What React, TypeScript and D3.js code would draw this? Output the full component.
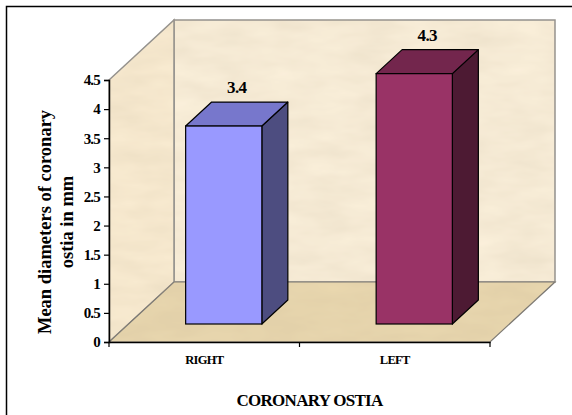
import * as d3 from "d3"
import { useEffect, useRef } from "react"

// chart data
const categories = ["RIGHT", "LEFT"]
const values = [3.4, 4.3]
const yTicks = [0, 0.5, 1, 1.5, 2, 2.5, 3, 3.5, 4, 4.5]
const barColors = [
	{ front: "#9999FF", top: "#7777CC", side: "#4D4D80" },
	{ front: "#993366", top: "#73264D", side: "#4D1A33" },
]

export default function App() {

	const chartRef = useRef<SVGSVGElement>(null)

	useEffect(() => {
		const svg = d3.select(chartRef.current)
		svg.selectAll("*").remove()
		DrawChart(svg)
	}, [])

	const width = 572
	const height = 415
	// front plane of the plot
	const plot = { left: 109, right: 490, top: 80, bottom: 342 }
	// depth of the walls
	const depth = { dx: 65, dy: -60 }
	const font = "'Liberation Serif', 'Times New Roman', serif"

	const DrawChart = (svg: any) => {

		const defs = svg.append("defs")
		// light marble look for the walls
		const filter = defs.append("filter").attr("id", "grain")
		filter.append("feTurbulence")
			.attr("type", "fractalNoise")
			.attr("baseFrequency", "0.02 0.06")
			.attr("numOctaves", 3)
			.attr("seed", 4)
			.attr("result", "noise")
		filter.append("feColorMatrix")
			.attr("in", "noise")
			.attr("type", "matrix")
			.attr("values", "0 0 0 0 0.55  0 0 0 0 0.45  0 0 0 0 0.3  0 0 0 0.28 0")
			.attr("result", "tint")
		filter.append("feComposite")
			.attr("in", "tint")
			.attr("in2", "SourceGraphic")
			.attr("operator", "atop")

		svg.append("rect")
			.attr("width", width)
			.attr("height", height)
			.attr("fill", "#ffffff")

		// outer frame (right and bottom run off the picture)
		svg.append("rect")
			.attr("x", 6.5)
			.attr("y", 6.5)
			.attr("width", width + 20)
			.attr("height", height + 20)
			.attr("fill", "none")
			.attr("stroke", "#000")
			.attr("stroke-width", 1.5)

		const x = d3.scaleBand<string>()
			.domain(categories)
			.range([plot.left, plot.right])
			.padding(0)

		const y = d3.scaleLinear()
			.domain([0, 4.5])
			.range([plot.bottom, plot.top])

		const bx = plot.left + depth.dx
		const by = depth.dy
		const pts = (p: number[][]) => p.map(d => d.join(",")).join(" ")

		// back wall
		svg.append("polygon")
			.attr("points", pts([
				[bx, y(4.5) + by], [plot.right + depth.dx, y(4.5) + by],
				[plot.right + depth.dx, y(0) + by], [bx, y(0) + by],
			]))
			.attr("fill", "#FCF1DC")
			.attr("filter", "url(#grain)")
			.attr("stroke", "#8c8c8c")
			.attr("stroke-width", 1.5)

		// left wall
		svg.append("polygon")
			.attr("points", pts([
				[plot.left, y(4.5)], [bx, y(4.5) + by],
				[bx, y(0) + by], [plot.left, y(0)],
			]))
			.attr("fill", "#FBEDD3")
			.attr("filter", "url(#grain)")
			.attr("stroke", "#8c8c8c")
			.attr("stroke-width", 1.5)

		// floor
		svg.append("polygon")
			.attr("points", pts([
				[plot.left, y(0)], [bx, y(0) + by],
				[plot.right + depth.dx, y(0) + by], [plot.right, y(0)],
			]))
			.attr("fill", "#EAD8AF")
			.attr("filter", "url(#grain)")
			.attr("stroke", "#6e6e6e")
			.attr("stroke-width", 1.2)

		// bars
		const barW = x.bandwidth() * 0.4
		const off = { dx: depth.dx * 0.3, dy: depth.dy * 0.3 }
		const thick = { dx: depth.dx * 0.4, dy: depth.dy * 0.4 }

		const bars = svg.append("g")
			.selectAll("g")
			.data(values)
			.enter()
			.append("g")

		bars.each(function (this: SVGGElement, d: number, i: number) {
			const g = d3.select(this)
			const x0 = (x(categories[i]) as number) + x.bandwidth() / 2 - barW / 2 + off.dx
			const x1 = x0 + barW
			const yb = y(0) + off.dy
			const yt = y(d) + off.dy
			const c = barColors[i]
			// side
			g.append("polygon")
				.attr("points", pts([[x1, yt], [x1 + thick.dx, yt + thick.dy], [x1 + thick.dx, yb + thick.dy], [x1, yb]]))
				.attr("fill", c.side)
				.attr("stroke", "#000")
				.attr("stroke-width", 1.2)
				.attr("stroke-linejoin", "round")
			// top
			g.append("polygon")
				.attr("points", pts([[x0, yt], [x0 + thick.dx, yt + thick.dy], [x1 + thick.dx, yt + thick.dy], [x1, yt]]))
				.attr("fill", c.top)
				.attr("stroke", "#000")
				.attr("stroke-width", 1.2)
				.attr("stroke-linejoin", "round")
			// front
			g.append("rect")
				.attr("x", x0)
				.attr("y", yt)
				.attr("width", barW)
				.attr("height", yb - yt)
				.attr("fill", c.front)
				.attr("stroke", "#000")
				.attr("stroke-width", 1.2)
			// value label
			g.append("text")
				.attr("x", (x0 + x1 + thick.dx) / 2)
				.attr("y", yt + thick.dy - 9)
				.attr("text-anchor", "middle")
				.style("font-family", font)
				.style("font-weight", "bold")
				.style("font-size", "17px")
				.style("letter-spacing", "-0.6px")
				.text(d)
		})

		// Y axis
		const yAxis = d3.axisLeft(y)
			.tickValues(yTicks)
			.tickSize(5)
			.tickPadding(4)
			.tickFormat(d => String(d))

		const yg = svg.append("g")
			.attr("transform", `translate(${plot.left}, 0)`)
			.call(yAxis)
		yg.select(".domain").attr("stroke", "#000").attr("stroke-width", 1.5)
		yg.selectAll("line").attr("stroke", "#000").attr("stroke-width", 1.2)
		yg.selectAll("text")
			.attr("fill", "#000")
			.style("font-family", font)
			.style("font-weight", "bold")
			.style("font-size", "15px")
			.style("letter-spacing", "-0.8px")

		// X axis
		const xAxis = d3.axisBottom(x)
			.tickSize(0)
			.tickPadding(13)

		const xg = svg.append("g")
			.attr("transform", `translate(0, ${plot.bottom})`)
			.call(xAxis)
		xg.select(".domain").attr("stroke", "#000").attr("stroke-width", 1.5)
		xg.selectAll("text")
			.attr("fill", "#000")
			.style("font-family", font)
			.style("font-weight", "bold")
			.style("font-size", "12.5px")
			.style("letter-spacing", "-0.7px")
		// category separator ticks
		xg.selectAll(".sep")
			.data([plot.left, ...categories.map(c => (x(c) as number) + x.bandwidth())])
			.enter()
			.append("line")
			.attr("class", "sep")
			.attr("x1", (d: number) => d)
			.attr("x2", (d: number) => d)
			.attr("y1", 0)
			.attr("y2", 5)
			.attr("stroke", "#000")
			.attr("stroke-width", 1.2)

		// axis titles
		svg.append("text")
			.attr("x", (plot.left + plot.right) / 2 + 10)
			.attr("y", 406)
			.attr("text-anchor", "middle")
			.style("font-family", font)
			.style("font-weight", "bold")
			.style("font-size", "17px")
			.style("letter-spacing", "-0.7px")
			.text("CORONARY OSTIA")

		const yTitle = svg.append("text")
			.attr("transform", `translate(51, 222) rotate(-90)`)
			.attr("text-anchor", "middle")
			.style("font-family", font)
			.style("font-weight", "bold")
			.style("font-size", "18.5px")
		yTitle.append("tspan").attr("x", 0).attr("y", 0).text("Mean diameters of coronary")
		yTitle.append("tspan").attr("x", 0).attr("y", 22).text("ostia in mm")
	}

	return (
		<svg
			ref={chartRef}
			width={width}
			height={height}
			style={{ position: "absolute", left: 0, top: 0 }}
		/>
	)
}
